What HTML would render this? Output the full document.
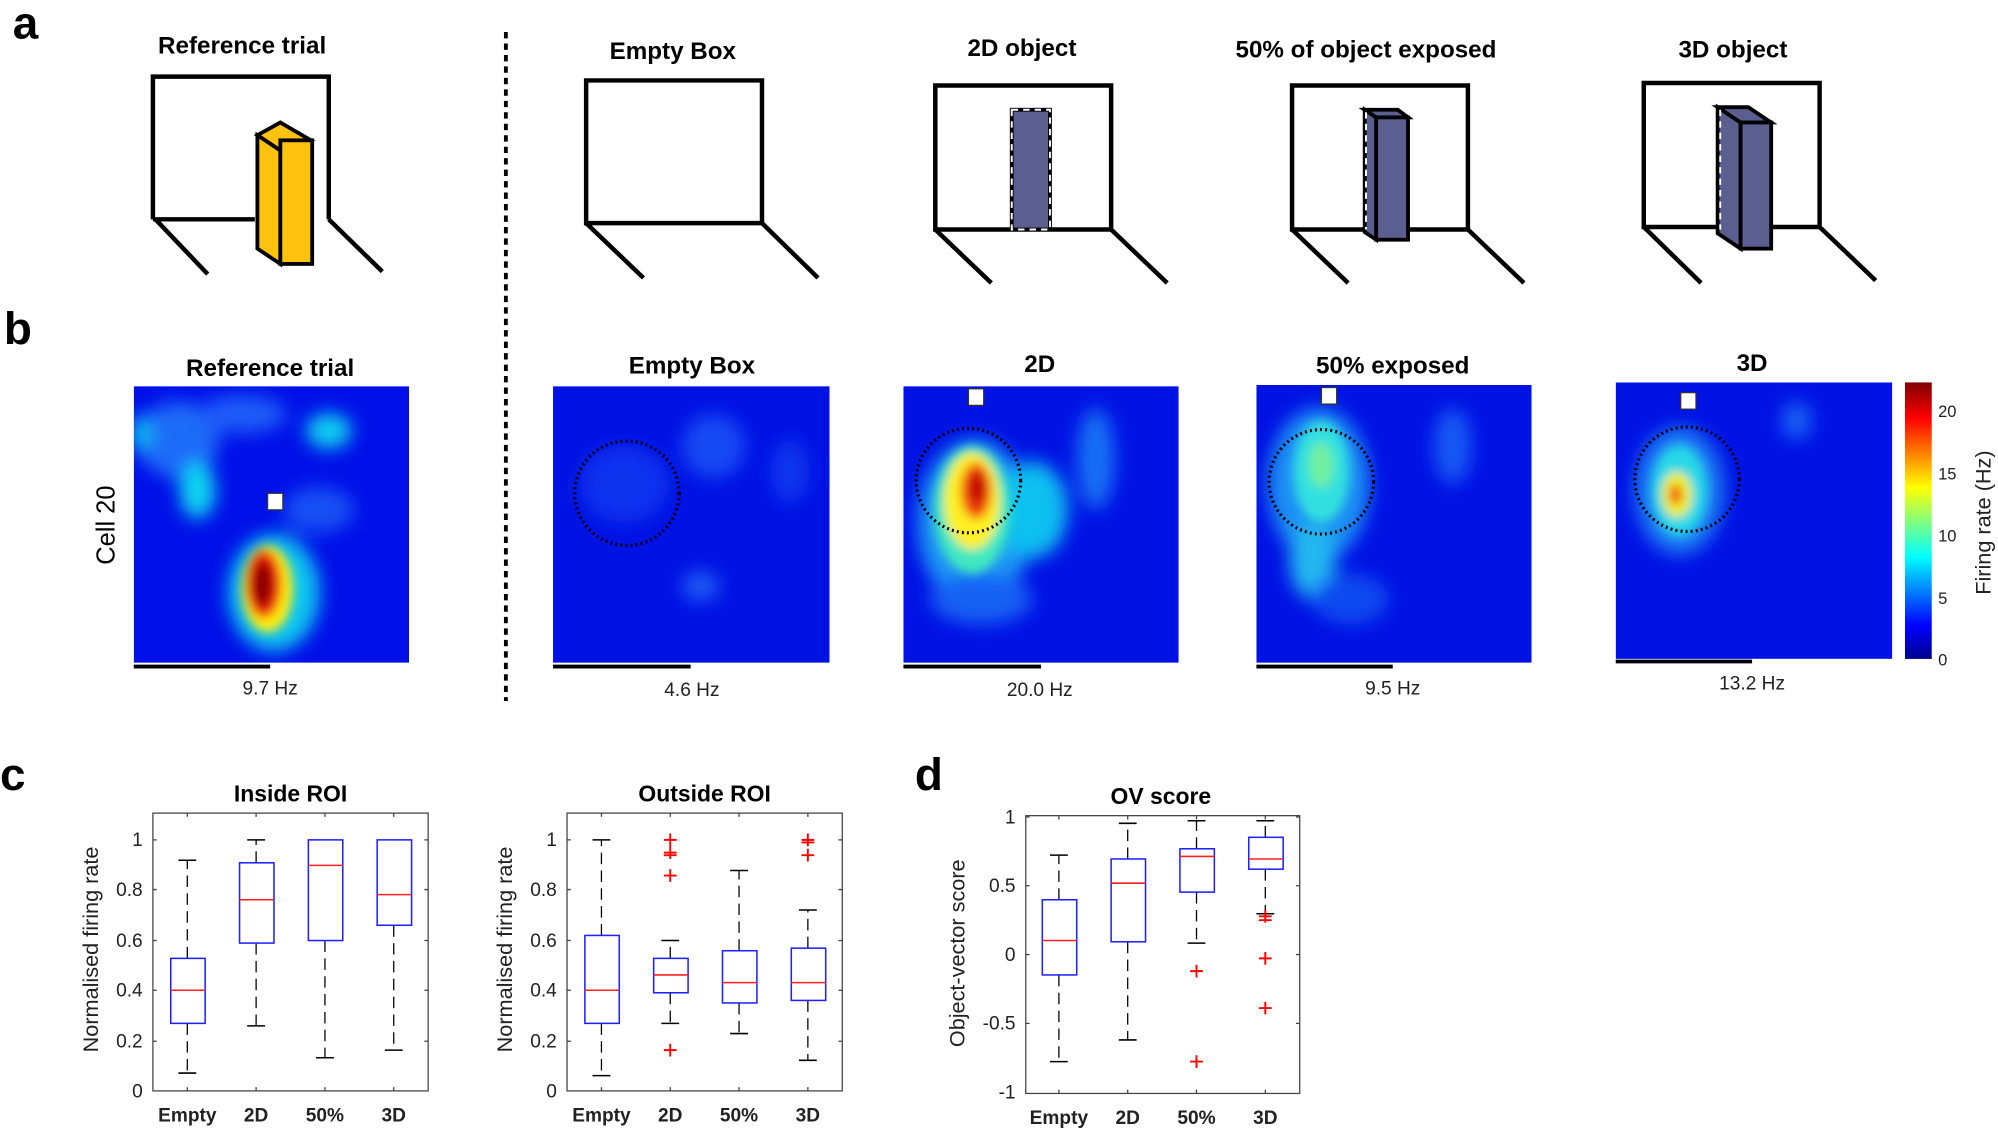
<!DOCTYPE html>
<html><head><meta charset="utf-8"><style>
html,body{margin:0;padding:0;background:#fff;}
svg{display:block;font-family:"Liberation Sans",Arial,sans-serif;}
.t{font-weight:bold;font-size:19px;text-anchor:middle;}
.s{font-size:15px;text-anchor:middle;fill:#222;}
.tk{font-size:15px;fill:#222;text-anchor:end;}
.ct{font-size:15px;font-weight:bold;text-anchor:middle;fill:#222;}
.L{font-weight:bold;font-size:36px;}
</style></head><body>
<svg width="1998" height="1128" viewBox="0 0 1568 885" xmlns="http://www.w3.org/2000/svg">
<defs>
<filter id="b" x="-50%" y="-50%" width="200%" height="200%"><feGaussianBlur stdDeviation="7"/></filter>
<filter id="b2" x="-50%" y="-50%" width="200%" height="200%"><feGaussianBlur stdDeviation="4"/></filter>
<linearGradient id="jet" x1="0" y1="1" x2="0" y2="0">
<stop offset="0" stop-color="#00008f"/><stop offset="0.12" stop-color="#0000ff"/><stop offset="0.37" stop-color="#00ffff"/><stop offset="0.62" stop-color="#ffff00"/><stop offset="0.87" stop-color="#ff0000"/><stop offset="1" stop-color="#800000"/></linearGradient>
<clipPath id="c1"><rect x="105" y="303" width="216" height="217"/></clipPath>
<clipPath id="c2"><rect x="434" y="303" width="217" height="217"/></clipPath>
<clipPath id="c3"><rect x="709" y="303" width="216" height="217"/></clipPath>
<clipPath id="c4"><rect x="986" y="302" width="216" height="218"/></clipPath>
<clipPath id="c5"><rect x="1268" y="300" width="217" height="217"/></clipPath>
</defs>
<text x="10" y="30" class="L">a</text>
<text x="3" y="270" class="L">b</text>
<text x="0" y="620" class="L">c</text>
<text x="718" y="620" class="L">d</text>
<line x1="397" y1="25" x2="397" y2="550" stroke="#000" stroke-width="3" stroke-dasharray="5,4"/>

<g stroke="#000" stroke-width="3.5" fill="none">
<text x="190" y="42" class="t" stroke="none" fill="#000">Reference trial</text>
<path d="M120 172 V60 H258 V172 M120 172 H200 M122 172 L163 215 M258 172 L300 213"/>
<polygon points="202,106 220,96 244,110 220,118" fill="#ffc20e" stroke-width="3"/>
<polygon points="202,106 220,118 220,207 202,195" fill="#ffc20e" stroke-width="3"/>
<rect x="220" y="110" width="25" height="97" fill="#ffc20e" stroke-width="3"/>

<text x="528" y="46" class="t" stroke="none" fill="#000">Empty Box</text>
<path d="M460 175 V63 H598 V175 Z M460 175 L505 218 M598 175 L642 218"/>

<text x="802" y="44" class="t" stroke="none" fill="#000">2D object</text>
<path d="M734 180 V67 H872 V180 Z M734 180 L778 222 M872 180 L916 222"/>
<rect x="794" y="86" width="30" height="94" fill="#5b5f8f" stroke-width="3"/>
<rect x="794" y="86" width="30" height="94" fill="none" stroke="#fff" stroke-width="1.5" stroke-dasharray="5,4"/>

<text x="1072" y="45" class="t" stroke="none" fill="#000">50% of object exposed</text>
<path d="M1014 180 V67 H1152 V180 Z M1014 180 L1058 222 M1152 180 L1196 222"/>
<polygon points="1071,86 1080,92 1080,188 1071,182" fill="#5b5f8f" stroke-width="3"/>
<polygon points="1071,86 1097,86 1105,92 1080,92" fill="#5b5f8f" stroke-width="3"/>
<rect x="1080" y="92" width="25" height="96" fill="#5b5f8f" stroke-width="3"/>
<line x1="1072" y1="88" x2="1072" y2="180" stroke="#fff" stroke-width="1.5" stroke-dasharray="5,4"/>

<text x="1360" y="45" class="t" stroke="none" fill="#000">3D object</text>
<path d="M1290 178 V65 H1428 V178 Z M1290 178 L1335 222 M1428 178 L1472 220"/>
<polygon points="1348,84 1366,96 1366,195 1348,183" fill="#5b5f8f" stroke-width="3"/>
<polygon points="1348,84 1372,84 1390,96 1366,96" fill="#5b5f8f" stroke-width="3"/>
<rect x="1366" y="96" width="24" height="99" fill="#5b5f8f" stroke-width="3"/>
<line x1="1350" y1="86" x2="1350" y2="180" stroke="#fff" stroke-width="1.5" stroke-dasharray="5,4"/>
</g>

<text x="212" y="295" class="t">Reference trial</text>
<text x="543" y="293" class="t">Empty Box</text>
<text x="816" y="292" class="t">2D</text>
<text x="1093" y="293" class="t">50% exposed</text>
<text x="1375" y="291" class="t">3D</text>
<text transform="translate(90,412) rotate(-90)" style="font-size:20px;text-anchor:middle">Cell 20</text>

<g clip-path="url(#c1)">
<rect x="105" y="303" width="216" height="217" fill="#0010e8"/>
<g filter="url(#b)">
<ellipse cx="140" cy="345" rx="32" ry="30" fill="#1e6cf8"/>
<ellipse cx="190" cy="325" rx="35" ry="15" fill="#1a5cf8"/>
<ellipse cx="155" cy="385" rx="14" ry="22" fill="#10d8f0"/>
<ellipse cx="110" cy="340" rx="8" ry="14" fill="#10c0f0"/>
<ellipse cx="258" cy="338" rx="18" ry="14" fill="#10d0f0"/>
<ellipse cx="250" cy="400" rx="28" ry="18" fill="#1850f4"/>
<ellipse cx="215" cy="465" rx="36" ry="46" fill="#10c8f0"/>
</g>
<g filter="url(#b2)">
<ellipse cx="210" cy="462" rx="20" ry="34" fill="#ffee10"/>
<ellipse cx="207" cy="458" rx="14" ry="27" fill="#f02010"/>
<ellipse cx="206" cy="458" rx="8" ry="18" fill="#900000"/>
</g></g>
<rect x="210" y="387" width="12" height="13" fill="#fff" stroke="#333"/>

<g clip-path="url(#c2)">
<rect x="434" y="303" width="217" height="217" fill="#0012e4"/>
<g filter="url(#b)">
<ellipse cx="560" cy="350" rx="25" ry="25" fill="#1448f4"/>
<ellipse cx="490" cy="380" rx="35" ry="30" fill="#0c30ee"/>
<ellipse cx="550" cy="460" rx="15" ry="12" fill="#1c58f4"/>
<ellipse cx="620" cy="370" rx="15" ry="25" fill="#0c36ee"/>
</g></g>
<circle cx="492" cy="387" r="41" fill="none" stroke="#000" stroke-width="2.5" stroke-dasharray="1.5,2.5"/>

<g clip-path="url(#c3)">
<rect x="709" y="303" width="216" height="217" fill="#0012e4"/>
<g filter="url(#b)">
<ellipse cx="765" cy="410" rx="45" ry="65" fill="#1a98f4"/>
<ellipse cx="810" cy="400" rx="28" ry="38" fill="#10c0f0"/>
<ellipse cx="860" cy="360" rx="15" ry="40" fill="#1870f4"/>
<ellipse cx="770" cy="470" rx="40" ry="20" fill="#1860f4"/>
</g>
<g filter="url(#b2)">
<ellipse cx="763" cy="400" rx="30" ry="50" fill="#40e8c0"/>
<ellipse cx="763" cy="393" rx="22" ry="38" fill="#fff020"/>
<ellipse cx="766" cy="385" rx="12" ry="22" fill="#f04010"/>
<ellipse cx="767" cy="383" rx="6" ry="12" fill="#c00000"/>
</g></g>
<rect x="760" y="305" width="12" height="13" fill="#fff" stroke="#333"/>
<circle cx="760" cy="377" r="41" fill="none" stroke="#000" stroke-width="2.5" stroke-dasharray="1.5,2.5"/>

<g clip-path="url(#c4)">
<rect x="986" y="302" width="216" height="218" fill="#0012e4"/>
<g filter="url(#b)">
<ellipse cx="1035" cy="380" rx="40" ry="60" fill="#1a90f4"/>
<ellipse cx="1030" cy="440" rx="18" ry="30" fill="#20b8f0"/>
<ellipse cx="1140" cy="350" rx="15" ry="30" fill="#1458f4"/>
<ellipse cx="1060" cy="470" rx="30" ry="20" fill="#1048f0"/>
</g>
<g filter="url(#b2)">
<ellipse cx="1037" cy="370" rx="22" ry="40" fill="#30e0e0"/>
<ellipse cx="1037" cy="365" rx="10" ry="18" fill="#70f0a0"/>
</g></g>
<rect x="1037" y="304" width="12" height="13" fill="#fff" stroke="#333"/>
<circle cx="1037" cy="378" r="41" fill="none" stroke="#000" stroke-width="2.5" stroke-dasharray="1.5,2.5"/>

<g clip-path="url(#c5)">
<rect x="1268" y="300" width="217" height="217" fill="#0012e4"/>
<g filter="url(#b)">
<ellipse cx="1318" cy="385" rx="35" ry="50" fill="#1a80f4"/>
<ellipse cx="1410" cy="330" rx="12" ry="15" fill="#1860f4"/>
</g>
<g filter="url(#b2)">
<ellipse cx="1318" cy="385" rx="22" ry="36" fill="#28d8e8"/>
<ellipse cx="1316" cy="388" rx="12" ry="18" fill="#f0f020"/>
<ellipse cx="1315" cy="388" rx="5" ry="8" fill="#f04010"/>
</g></g>
<rect x="1319" y="308" width="12" height="13" fill="#fff" stroke="#333"/>
<circle cx="1324" cy="376" r="41" fill="none" stroke="#000" stroke-width="2.5" stroke-dasharray="1.5,2.5"/>

<rect x="1495" y="300" width="21" height="217" fill="url(#jet)"/>
<g class="tk" style="text-anchor:start;font-size:13px">
<text x="1521" y="327">20</text><text x="1521" y="376">15</text><text x="1521" y="425">10</text><text x="1521" y="474">5</text><text x="1521" y="522">0</text></g>
<text transform="translate(1562,410) rotate(-90)" style="font-size:17px;text-anchor:middle;fill:#222">Firing rate (Hz)</text>

<g stroke="#000" stroke-width="3">
<line x1="105" y1="523" x2="212" y2="523"/><line x1="434" y1="523" x2="542" y2="523"/>
<line x1="709" y1="523" x2="817" y2="523"/><line x1="986" y1="523" x2="1093" y2="523"/>
<line x1="1268" y1="519" x2="1375" y2="519"/></g>
<text x="212" y="545" class="s">9.7 Hz</text><text x="543" y="546" class="s">4.6 Hz</text>
<text x="816" y="546" class="s">20.0 Hz</text><text x="1093" y="545" class="s">9.5 Hz</text>
<text x="1375" y="541" class="s">13.2 Hz</text>

<text x="228" y="629" class="t" style="font-size:18px">Inside ROI</text>
<text x="553" y="629" class="t" style="font-size:18px">Outside ROI</text>
<text x="911" y="631" class="t" style="font-size:18px">OV score</text>
<text transform="translate(77,745) rotate(-90)" style="font-size:17px;text-anchor:middle;fill:#222">Normalised firing rate</text>
<text transform="translate(402,745) rotate(-90)" style="font-size:17px;text-anchor:middle;fill:#222">Normalised firing rate</text>
<text transform="translate(757,748) rotate(-90)" style="font-size:17px;text-anchor:middle;fill:#222">Object-vector score</text>

<g fill="none" stroke="#444" stroke-width="1">
<rect x="120" y="638" width="216" height="218"/><rect x="445" y="638" width="216" height="218"/><rect x="805" y="640" width="215" height="218"/>
<path d="M120 659h3M120 698h3M120 738h3M120 777h3M120 817h3M336 659h-3M336 698h-3M336 738h-3M336 777h-3M336 817h-3
M445 659h3M445 698h3M445 738h3M445 777h3M445 817h3M661 659h-3M661 698h-3M661 738h-3M661 777h-3M661 817h-3
M805 641h3M805 695h3M805 749h3M805 803h3M1020 641h-3M1020 695h-3M1020 749h-3M1020 803h-3
M147 856v-3M201 856v-3M255 856v-3M309 856v-3M147 638v3M201 638v3M255 638v3M309 638v3
M472 856v-3M526 856v-3M580 856v-3M634 856v-3M472 638v3M526 638v3M580 638v3M634 638v3
M831 858v-3M885 858v-3M939 858v-3M993 858v-3M831 640v3M885 640v3M939 640v3M993 640v3"/>
</g>
<g class="tk">
<text x="112" y="664">1</text><text x="112" y="703">0.8</text><text x="112" y="743">0.6</text><text x="112" y="782">0.4</text><text x="112" y="822">0.2</text><text x="112" y="861">0</text>
<text x="437" y="664">1</text><text x="437" y="703">0.8</text><text x="437" y="743">0.6</text><text x="437" y="782">0.4</text><text x="437" y="822">0.2</text><text x="437" y="861">0</text>
<text x="797" y="646">1</text><text x="797" y="700">0.5</text><text x="797" y="754">0</text><text x="797" y="808">-0.5</text><text x="797" y="862">-1</text>
</g>
<g class="ct">
<text x="147" y="880">Empty</text><text x="201" y="880">2D</text><text x="255" y="880">50%</text><text x="309" y="880">3D</text>
<text x="472" y="880">Empty</text><text x="526" y="880">2D</text><text x="580" y="880">50%</text><text x="634" y="880">3D</text>
<text x="831" y="882">Empty</text><text x="885" y="882">2D</text><text x="939" y="882">50%</text><text x="993" y="882">3D</text>
</g>

<g stroke="#000" stroke-width="1" stroke-dasharray="9,5" fill="none">
<path d="M147 803V842M147 752V675 M201 740V805M201 677V659 M255 738V830 M309 726V824
M472 803V844M472 734V659 M526 779V803M526 752V738 M580 787V811M580 746V683 M634 785V832M634 744V714
M831 765V833M831 706V671 M885 739V816M885 674V646 M939 700V740M939 666V644 M993 682V717M993 657V644"/>
</g>
<g stroke="#000" stroke-width="1.2">
<path d="M140 842h14M140 675h14M194 805h14M194 659h14M248 830h14M302 824h14
M465 844h14M465 659h14M519 803h14M519 738h14M573 811h14M573 683h14M627 832h14M627 714h14
M824 833h14M824 671h14M878 816h14M878 646h14M932 740h14M932 644h14M986 717h14M986 644h14"/>
</g>
<g fill="#fff" stroke="#2020ff" stroke-width="1.2">
<rect x="134" y="752" width="27" height="51"/><rect x="188" y="677" width="27" height="63"/><rect x="242" y="659" width="27" height="79"/><rect x="296" y="659" width="27" height="67"/>
<rect x="459" y="734" width="27" height="69"/><rect x="513" y="752" width="27" height="27"/><rect x="567" y="746" width="27" height="41"/><rect x="621" y="744" width="27" height="41"/>
<rect x="818" y="706" width="27" height="59"/><rect x="872" y="674" width="27" height="65"/><rect x="926" y="666" width="27" height="34"/><rect x="980" y="657" width="27" height="25"/>
</g>
<g stroke="#ff2020" stroke-width="1.2">
<path d="M134 777h27M188 706h27M242 679h27M296 702h27M459 777h27M513 765h27M567 771h27M621 771h27M818 738h27M872 693h27M926 672h27M980 674h27"/>
</g>
<g stroke="#ff0000" stroke-width="1.5">
<path d="M521 659h10M526 654v10M521 669h10M526 664v10M521 671h10M521 687h10M526 682v10M521 824h10M526 819v10
M629 659h10M634 654v10M629 661h10M629 671h10M634 666v10
M934 762h10M939 757v10M934 833h10M939 828v10
M988 719h10M993 714v10M988 722h10M988 752h10M993 747v10M988 791h10M993 786v10"/>
</g>
</svg>
</body></html>
